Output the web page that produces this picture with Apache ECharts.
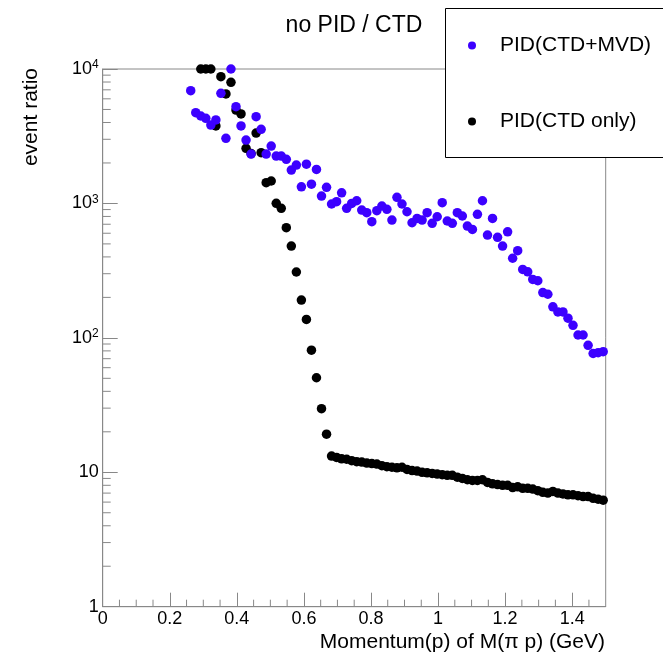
<!DOCTYPE html>
<html>
<head>
<meta charset="utf-8">
<script src="https://cdn.jsdelivr.net/npm/echarts@6/dist/echarts.min.js"></script>
<style>html,body{margin:0;padding:0;background:#fff;}#c{width:663px;height:657px;}</style>
</head>
<body>
<div id="c"></div>
<script>
// Bin centres (GeV), bins 17..99 of 100 bins over 0..1.5
const momentum = [
  0.2625,0.2775,0.2925,0.3075,0.3225,0.3375,0.3525,0.3675,0.3825,0.3975,
  0.4125,0.4275,0.4425,0.4575,0.4725,0.4875,0.5025,0.5175,0.5325,0.5475,
  0.5625,0.5775,0.5925,0.6075,0.6225,0.6375,0.6525,0.6675,0.6825,0.6975,
  0.7125,0.7275,0.7425,0.7575,0.7725,0.7875,0.8025,0.8175,0.8325,0.8475,
  0.8625,0.8775,0.8925,0.9075,0.9225,0.9375,0.9525,0.9675,0.9825,0.9975,
  1.0125,1.0275,1.0425,1.0575,1.0725,1.0875,1.1025,1.1175,1.1325,1.1475,
  1.1625,1.1775,1.1925,1.2075,1.2225,1.2375,1.2525,1.2675,1.2825,1.2975,
  1.3125,1.3275,1.3425,1.3575,1.3725,1.3875,1.4025,1.4175,1.4325,1.4475,
  1.4625,1.4775,1.4925
];
const ratioCTDMVD = [
  6900,4730,4470,4300,3830,4180,6590,3050,10000,5240,
  3770,2960,2330,4420,3560,2330,2670,2250,2250,2130,
  1770,1930,1330,1960,1390,1790,1135,1318,990,1030,
  1200,920,1000,1047,893,853,731,883,957,904,
  752,1110,990,867,718,774,752,853,711,796,
  1012,740,711,853,806,679,641,830,1047,582,
  774,560,482,615,391,445,323,310,272,266,
  217,211,170,156,156,140,124,105,105,88,
  76.5,77.5,78.9
];
const ratioCTDonly = [
  null,null,10000,10000,10000,3770,8770,6520,7960,4950,
  4630,2570,2350,3340,2385,1426,1468,1002,920,660,
  482,309,191,137,81,50.5,29.7,19.2,13.2,12.9,
  12.6,12.5,12.2,12.0,11.9,11.7,11.6,11.5,11.2,11.0,
  10.9,10.8,10.9,10.5,10.3,10.2,10.0,9.9,9.8,9.7,
  9.6,9.5,9.5,9.2,9.0,8.8,8.7,8.7,8.8,8.4,
  8.2,8.1,8.0,8.0,7.7,7.8,7.6,7.6,7.5,7.3,
  7.1,7.0,7.2,7.0,6.9,6.8,6.8,6.7,6.6,6.6,
  6.4,6.3,6.2
];
const seriesNames = ['PID(CTD+MVD)', 'PID(CTD only)'];
const xMinorTicks = [0.05,0.1,0.15,0.25,0.3,0.35,0.45,0.5,0.55,0.65,0.7,0.75,0.85,0.9,0.95,1.05,1.1,1.15,1.25,1.3,1.35,1.45];
const yMinorTicks = [2,3,4,5,6,7,8,9,20,30,40,50,60,70,80,90,200,300,400,500,600,700,800,900,2000,3000,4000,5000,6000,7000,8000,9000];

const FONT = "'Liberation Sans', Arial, sans-serif";
const AXIS = '#888888';

const pairs = (xs, ys) => xs.map((x, i) => [x, ys[i]]).filter(p => p[1] !== null);

const chart = echarts.init(document.getElementById('c'), null, {renderer: 'canvas'});
chart.setOption({
  backgroundColor: '#fff',
  animation: false,
  title: {
    text: 'no PID / CTD', left: 349, top: 9, textAlign: 'center',
    textStyle: {fontFamily: FONT, fontSize: 23, fontWeight: 'normal', color: '#000'}
  },
  legend: {
    data: seriesNames, orient: 'vertical', left: 445, top: 8, z: 20,
    padding: [27, 40, 27, 23], itemGap: 55, itemWidth: 46, itemHeight: 8, icon: 'circle',
    backgroundColor: 'transparent', borderWidth: 0,
    textStyle: {fontFamily: FONT, fontSize: 21, color: '#000', lineHeight: 20},
    selectedMode: false
  },
  grid: {left: 102.7, right: 57.3, top: 69, bottom: 50.3, show: true, borderColor: AXIS, borderWidth: 1, backgroundColor: 'transparent'},
  xAxis: {
    type: 'value', min: 0, max: 1.5, interval: 0.2,
    axisLine: {show: true, lineStyle: {color: AXIS, width: 1}},
    axisTick: {show: true, inside: true, length: 14, lineStyle: {color: AXIS, width: 1}},
    splitLine: {show: false},
    axisLabel: {
      fontFamily: FONT, fontSize: 18, color: '#000', margin: 3, showMaxLabel: false,
      formatter: v => (v > 1.45 ? '' : String(Math.round(v * 10) / 10))
    }
  },
  yAxis: {
    type: 'log', logBase: 10, min: 1, max: 10000, interval: 1,
    axisLine: {show: true, lineStyle: {color: AXIS, width: 1}},
    axisTick: {show: true, inside: true, length: 15, lineStyle: {color: AXIS, width: 1}},
    splitLine: {show: false},
    axisLabel: {
      fontFamily: FONT, fontSize: 18, color: '#000', margin: 4, lineHeight: 20,
      formatter: v => {
        if (v <= 1.01) return '1';
        if (Math.abs(v - 10) < 0.1) return '10';
        return '10{s|' + Math.round(Math.log10(v)) + '}';
      },
      rich: {s: {fontFamily: FONT, fontSize: 12, color: '#000', verticalAlign: 'top', lineHeight: 20}}
    }
  },
  graphic: [
    {type: 'rect', z: 15, shape: {x: 445.5, y: 8.5, width: 260, height: 149}, style: {fill: '#fff', stroke: '#000', lineWidth: 1}},
    {type: 'text', left: 21, top: 68, style: {text: 'event ratio', font: "21px 'Liberation Sans', Arial", fill: '#000'}, rotation: Math.PI / 2, originX: 0, originY: 0},
    {type: 'text', right: 58, top: 632, style: {text: 'Momentum(p) of M(\u03c0 p) (GeV)', font: "21px 'Liberation Sans', Arial", fill: '#000'}}
  ],
  series: [
    {
      name: 'xminor', type: 'custom', silent: true, clip: false, z: 1,
      data: xMinorTicks.map(x => [x, 1]),
      renderItem: (params, api) => {
        const p = api.coord([api.value(0), 1]);
        return {type: 'line', shape: {x1: p[0], y1: p[1], x2: p[0], y2: p[1] - 7}, style: {stroke: AXIS, lineWidth: 1}};
      }
    },
    {
      name: 'yminor', type: 'custom', silent: true, clip: false, z: 1,
      data: yMinorTicks.map(y => [0, y]),
      renderItem: (params, api) => {
        const p = api.coord([0, api.value(1)]);
        return {type: 'line', shape: {x1: p[0], y1: p[1], x2: p[0] + 8, y2: p[1]}, style: {stroke: AXIS, lineWidth: 1}};
      }
    },
    {
      name: seriesNames[1], type: 'scatter', symbol: 'circle', symbolSize: 9.5, z: 3,
      itemStyle: {color: '#000000', opacity: 1},
      data: pairs(momentum, ratioCTDonly)
    },
    {
      name: seriesNames[0], type: 'scatter', symbol: 'circle', symbolSize: 9.5, z: 4,
      itemStyle: {color: '#3c00ff', opacity: 1},
      data: pairs(momentum, ratioCTDMVD)
    }
  ]
});
</script>
</body>
</html>
